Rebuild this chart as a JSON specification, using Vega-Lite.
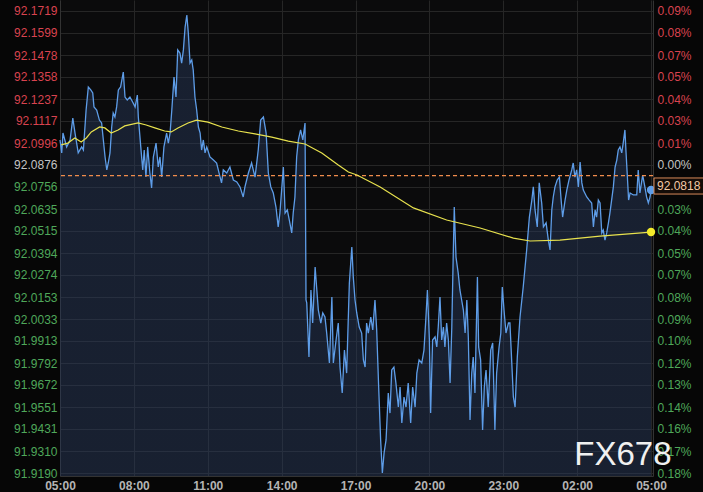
{
  "$schema": "https://vega.github.io/schema/vega-lite/v6.json",
  "width": 593,
  "height": 476,
  "autosize": "none",
  "padding": {"left": 60, "right": 50, "top": 0, "bottom": 16},
  "background": "#060606",
  "config": {
    "view": {"fill": "#0b0b0c", "stroke": null},
    "axis": {"labelFont": "Liberation Sans", "labelFontSize": 12, "ticks": false, "domainColor": "#333333", "gridColor": "#262626", "gridWidth": 1, "labelFlush": false, "labelOverlap": false, "title": null}
  },
  "datasets": {
    "price": [
      {"h":0,"p":92.1013},{"h":0.07,"p":92.0942},{"h":0.12,"p":92.1051},{"h":0.27,"p":92.0975},{"h":0.41,"p":92.1013},{"h":0.52,"p":92.1133},{"h":0.61,"p":92.1051},{"h":0.74,"p":92.0942},{"h":0.88,"p":92.0975},{"h":0.95,"p":92.0958},
      {"h":1.06,"p":92.1177},{"h":1.15,"p":92.1303},{"h":1.25,"p":92.1287},{"h":1.33,"p":92.127},{"h":1.38,"p":92.1194},{"h":1.49,"p":92.1177},{"h":1.6,"p":92.1122},{"h":1.69,"p":92.1106},{"h":1.76,"p":92.1013},{"h":1.83,"p":92.092},
      {"h":1.9,"p":92.0849},{"h":1.96,"p":92.0887},{"h":2.03,"p":92.0942},{"h":2.1,"p":92.1084},{"h":2.16,"p":92.1161},{"h":2.23,"p":92.1139},{"h":2.3,"p":92.1194},{"h":2.37,"p":92.1287},{"h":2.46,"p":92.1303},{"h":2.57,"p":92.1385},
      {"h":2.64,"p":92.1248},{"h":2.73,"p":92.1232},{"h":2.84,"p":92.1248},{"h":2.95,"p":92.1221},{"h":3.05,"p":92.1194},{"h":3.14,"p":92.1259},{"h":3.18,"p":92.1139},{"h":3.28,"p":92.0975},{"h":3.36,"p":92.0849},{"h":3.42,"p":92.0958},
      {"h":3.49,"p":92.081},{"h":3.56,"p":92.0975},{"h":3.65,"p":92.0832},{"h":3.72,"p":92.075},{"h":3.79,"p":92.092},{"h":3.9,"p":92.0996},{"h":3.99,"p":92.0865},{"h":4.06,"p":92.092},{"h":4.13,"p":92.081},{"h":4.22,"p":92.0975},
      {"h":4.33,"p":92.1051},{"h":4.4,"p":92.0996},{"h":4.47,"p":92.1051},{"h":4.54,"p":92.1177},{"h":4.63,"p":92.1358},{"h":4.71,"p":92.1248},{"h":4.78,"p":92.1506},{"h":4.87,"p":92.1489},{"h":4.94,"p":92.1434},{"h":5.01,"p":92.1506},
      {"h":5.08,"p":92.1631},{"h":5.15,"p":92.1697},{"h":5.21,"p":92.1599},{"h":5.28,"p":92.1434},{"h":5.35,"p":92.1451},{"h":5.41,"p":92.1396},{"h":5.48,"p":92.1248},{"h":5.55,"p":92.1177},{"h":5.62,"p":92.1084},{"h":5.69,"p":92.1051},
      {"h":5.75,"p":92.0958},{"h":5.82,"p":92.1013},{"h":5.89,"p":92.0942},{"h":5.96,"p":92.0975},{"h":6.09,"p":92.092},{"h":6.23,"p":92.0903},{"h":6.36,"p":92.0887},{"h":6.5,"p":92.081},{"h":6.56,"p":92.0778},{"h":6.63,"p":92.0849},
      {"h":6.77,"p":92.0832},{"h":6.9,"p":92.0865},{"h":7.04,"p":92.0794},{"h":7.18,"p":92.0783},{"h":7.31,"p":92.0756},{"h":7.44,"p":92.0701},{"h":7.51,"p":92.0756},{"h":7.65,"p":92.0832},{"h":7.78,"p":92.0887},{"h":7.92,"p":92.081},
      {"h":8.05,"p":92.0958},{"h":8.15,"p":92.1122},{"h":8.26,"p":92.1139},{"h":8.37,"p":92.1051},{"h":8.46,"p":92.0832},{"h":8.56,"p":92.0756},{"h":8.66,"p":92.0723},{"h":8.77,"p":92.0646},{"h":8.86,"p":92.0537},{"h":8.93,"p":92.0613},
      {"h":9.07,"p":92.0865},{"h":9.14,"p":92.0613},{"h":9.23,"p":92.063},{"h":9.31,"p":92.0575},{"h":9.41,"p":92.0504},{"h":9.47,"p":92.0613},{"h":9.54,"p":92.0701},{"h":9.61,"p":92.092},{"h":9.68,"p":92.1013},{"h":9.77,"p":92.1068},
      {"h":9.86,"p":92.1013},{"h":9.95,"p":92.1106},{"h":9.99,"p":92.0137},{"h":10.02,"p":92.0121},{"h":10.11,"p":91.9825},{"h":10.19,"p":92.0192},{"h":10.26,"p":92.0011},{"h":10.36,"p":92.0318},{"h":10.42,"p":92.0208},{"h":10.49,"p":92.0082},
      {"h":10.59,"p":92.0011},{"h":10.67,"p":92.0066},{"h":10.76,"p":92.0044},{"h":10.83,"p":91.9956},{"h":10.94,"p":91.9792},{"h":11.04,"p":92.0153},{"h":11.1,"p":91.9792},{"h":11.21,"p":91.9918},{"h":11.3,"p":92.0011},{"h":11.37,"p":91.977},
      {"h":11.46,"p":91.9628},{"h":11.55,"p":91.9863},{"h":11.64,"p":91.9737},{"h":11.75,"p":92.023},{"h":11.85,"p":92.0427},{"h":11.91,"p":92.0263},{"h":11.98,"p":92.0137},{"h":12.05,"p":92.0066},{"h":12.15,"p":91.9989},{"h":12.25,"p":91.9956},
      {"h":12.32,"p":91.9809},{"h":12.39,"p":91.977},{"h":12.45,"p":92.0011},{"h":12.52,"p":91.9956},{"h":12.62,"p":92.0044},{"h":12.7,"p":91.9973},{"h":12.79,"p":92.0137},{"h":12.86,"p":91.9973},{"h":12.94,"p":91.9661},{"h":13.02,"p":91.9371},
      {"h":13.09,"p":91.919},{"h":13.16,"p":91.93},{"h":13.24,"p":91.9371},{"h":13.33,"p":91.9628},{"h":13.4,"p":91.9518},{"h":13.47,"p":91.9754},{"h":13.56,"p":91.977},{"h":13.64,"p":91.9683},{"h":13.74,"p":91.9551},{"h":13.81,"p":91.9661},
      {"h":13.88,"p":91.9464},{"h":13.97,"p":91.9606},{"h":14.05,"p":91.9551},{"h":14.14,"p":91.9683},{"h":14.24,"p":91.9464},{"h":14.32,"p":91.9661},{"h":14.42,"p":91.9551},{"h":14.49,"p":91.9737},{"h":14.58,"p":91.9809},{"h":14.69,"p":91.9792},
      {"h":14.78,"p":91.9863},{"h":14.86,"p":92.0044},{"h":14.92,"p":92.0192},{"h":15.0,"p":91.9918},{"h":15.05,"p":91.9518},{"h":15.13,"p":91.9918},{"h":15.23,"p":91.9935},{"h":15.3,"p":91.988},{"h":15.36,"p":91.9989},{"h":15.43,"p":92.0153},
      {"h":15.5,"p":91.9918},{"h":15.57,"p":91.9989},{"h":15.63,"p":91.988},{"h":15.7,"p":92.0011},{"h":15.77,"p":91.9918},{"h":15.84,"p":91.9683},{"h":15.91,"p":91.9989},{"h":15.97,"p":92.0394},{"h":16.01,"p":92.0646},{"h":16.08,"p":92.0372},
      {"h":16.17,"p":92.0285},{"h":16.24,"p":92.0192},{"h":16.31,"p":92.0137},{"h":16.38,"p":92.0082},{"h":16.45,"p":91.9956},{"h":16.52,"p":92.0137},{"h":16.58,"p":91.9935},{"h":16.65,"p":91.948},{"h":16.72,"p":91.9737},{"h":16.78,"p":91.9825},
      {"h":16.85,"p":91.9628},{"h":16.95,"p":92.0263},{"h":17.0,"p":91.988},{"h":17.08,"p":91.9809},{"h":17.16,"p":91.9425},{"h":17.23,"p":91.9661},{"h":17.3,"p":91.9754},{"h":17.39,"p":91.9551},{"h":17.49,"p":91.9863},{"h":17.57,"p":91.9902},
      {"h":17.66,"p":91.9425},{"h":17.73,"p":91.9737},{"h":17.83,"p":91.988},{"h":17.9,"p":91.9956},{"h":17.96,"p":92.0208},{"h":18.03,"p":92.0082},{"h":18.11,"p":91.9956},{"h":18.21,"p":92.0011},{"h":18.27,"p":92.0011},{"h":18.41,"p":91.9606},
      {"h":18.48,"p":91.9551},{"h":18.57,"p":91.9825},{"h":18.68,"p":92.0044},{"h":18.81,"p":92.0208},{"h":18.95,"p":92.0411},{"h":19.06,"p":92.0591},{"h":19.16,"p":92.0684},{"h":19.22,"p":92.0756},{"h":19.29,"p":92.063},{"h":19.38,"p":92.0537},
      {"h":19.46,"p":92.0778},{"h":19.56,"p":92.0668},{"h":19.63,"p":92.0537},{"h":19.74,"p":92.0559},{"h":19.83,"p":92.0465},{"h":19.9,"p":92.0411},{"h":19.97,"p":92.063},{"h":20.03,"p":92.0701},{"h":20.1,"p":92.0756},{"h":20.19,"p":92.0794},
      {"h":20.28,"p":92.081},{"h":20.35,"p":92.0684},{"h":20.41,"p":92.0591},{"h":20.51,"p":92.0684},{"h":20.58,"p":92.0739},{"h":20.67,"p":92.0794},{"h":20.78,"p":92.0849},{"h":20.84,"p":92.0887},{"h":20.91,"p":92.081},{"h":20.98,"p":92.0849},
      {"h":21.05,"p":92.0756},{"h":21.12,"p":92.0892},{"h":21.19,"p":92.0778},{"h":21.25,"p":92.0739},{"h":21.39,"p":92.0701},{"h":21.49,"p":92.0684},{"h":21.59,"p":92.0668},{"h":21.66,"p":92.0537},{"h":21.73,"p":92.063},{"h":21.79,"p":92.0591},
      {"h":21.86,"p":92.0684},{"h":21.93,"p":92.0668},{"h":22.0,"p":92.0504},{"h":22.06,"p":92.052},{"h":22.13,"p":92.0465},{"h":22.2,"p":92.0504},{"h":22.27,"p":92.0559},{"h":22.33,"p":92.0613},{"h":22.4,"p":92.0684},{"h":22.47,"p":92.0756},
      {"h":22.54,"p":92.0865},{"h":22.61,"p":92.0903},{"h":22.67,"p":92.0958},{"h":22.74,"p":92.0975},{"h":22.81,"p":92.0942},{"h":22.87,"p":92.0996},{"h":22.94,"p":92.1068},{"h":22.98,"p":92.0958},{"h":23.04,"p":92.081},{"h":23.09,"p":92.0684},
      {"h":23.15,"p":92.0723},{"h":23.28,"p":92.0712},{"h":23.42,"p":92.0712},{"h":23.48,"p":92.0849},{"h":23.55,"p":92.0723},{"h":23.66,"p":92.0821},{"h":23.75,"p":92.0756},{"h":23.82,"p":92.0701},{"h":23.89,"p":92.0668},{"h":23.96,"p":92.0701},
      {"h":24.0,"p":92.0739}
    ],
    "ma": [
      {"h":0.05,"m":92.0986},{"h":0.32,"m":92.0996},{"h":0.6,"m":92.1024},{"h":0.86,"m":92.1002},{"h":1.07,"m":92.1024},{"h":1.27,"m":92.1057},{"h":1.61,"m":92.1084},{"h":1.82,"m":92.1079},{"h":2.08,"m":92.1051},{"h":2.36,"m":92.1068},
      {"h":2.63,"m":92.109},{"h":3.17,"m":92.1106},{"h":3.5,"m":92.1095},{"h":3.85,"m":92.1079},{"h":4.25,"m":92.1062},{"h":4.52,"m":92.1057},{"h":4.79,"m":92.1079},{"h":5.2,"m":92.1106},{"h":5.54,"m":92.1122},{"h":6.01,"m":92.1111},
      {"h":6.57,"m":92.1084},{"h":7.24,"m":92.1062},{"h":7.92,"m":92.1046},{"h":8.6,"m":92.1029},{"h":9.27,"m":92.1007},{"h":9.95,"m":92.0991},{"h":10.63,"m":92.0942},{"h":11.3,"m":92.0876},{"h":11.71,"m":92.0838},{"h":12.06,"m":92.0821},
      {"h":13.0,"m":92.0756},{"h":14.35,"m":92.0641},{"h":15.7,"m":92.0575},{"h":17.06,"m":92.0531},{"h":18.41,"m":92.0476},{"h":19.09,"m":92.046},{"h":20.3,"m":92.0465},{"h":21.93,"m":92.0487},{"h":24.0,"m":92.0509}
    ],
    "last": [{"h":24.0,"p":92.0739,"m":92.0509}],
    "ref": [{"ref":92.0818,"label":"92.0818"}],
    "brand": [{"h":22.86,"v":91.9289,"text":"FX678"}]
  },
  "resolve": {"axis": {"y": "independent"}},
  "layer": [
    {
      "data": {"name": "price"},
      "mark": {"type": "area", "clip": true, "color": {"gradient": "linear", "x1": 0, "y1": 0, "x2": 0, "y2": 1, "stops": [{"offset": 0, "color": "rgba(40,58,93,0.45)"}, {"offset": 1, "color": "rgba(38,57,92,0.18)"}]}},
      "encoding": {
        "x": {"field": "h", "type": "quantitative", "scale": {"domain": [0, 24.08], "nice": false, "zero": false},
          "axis": {"values": [0,3,6,9,12,15,18,21,24], "grid": true, "domain": true, "labelColor": "#b4b4b4", "labelFontWeight": "bold", "labelPadding": 4,
            "labelExpr": "['05:00','08:00','11:00','14:00','17:00','20:00','23:00','02:00','05:00'][round(datum.value/3)]"}},
        "y": {"field": "p", "type": "quantitative", "scale": {"domain": [91.91736, 92.17792], "nice": false, "zero": false},
          "axis": {"orient": "left", "grid": true, "domain": true, "labelPadding": 3, "format": ".4f",
            "values": [92.1719,92.1599,92.1478,92.1358,92.1237,92.1117,92.0996,92.0876,92.0756,92.0635,92.0515,92.0394,92.0274,92.0153,92.0033,91.9913,91.9792,91.9672,91.9551,91.9431,91.9310,91.9190],
            "labelColor": {"condition": [{"test": "datum.value > 92.09", "value": "#d9434f"}, {"test": "datum.value < 92.08", "value": "#4fa85a"}], "value": "#c4c4c4"}}}
      }
    },
    {
      "data": {"name": "price"},
      "mark": {"type": "line", "stroke": "#5e9de8", "strokeWidth": 1.3},
      "encoding": {
        "x": {"field": "h", "type": "quantitative"},
        "y": {"field": "p", "type": "quantitative", "axis": null}
      }
    },
    {
      "data": {"name": "ref"},
      "mark": {"type": "rule", "strokeDash": [4, 3], "strokeWidth": 1.2, "opacity": 1},
      "encoding": {"y": {"field": "ref", "type": "quantitative", "axis": null}, "color": {"value": "#f08c4c"}}
    },
    {
      "data": {"name": "ma"},
      "mark": {"type": "line", "stroke": "#e8e24e", "strokeWidth": 1.2},
      "encoding": {
        "x": {"field": "h", "type": "quantitative"},
        "y": {"field": "m", "type": "quantitative",
          "axis": {"orient": "right", "grid": false, "domain": true, "labelPadding": 4,
            "values": [92.1719,92.1599,92.1478,92.1358,92.1237,92.1117,92.0996,92.0876,92.0756,92.0635,92.0515,92.0394,92.0274,92.0153,92.0033,91.9913,91.9792,91.9672,91.9551,91.9431,91.9310,91.9190],
            "labelExpr": "['0.09%','0.08%','0.07%','0.05%','0.04%','0.03%','0.01%','0.00%','','0.03%','0.04%','0.05%','0.07%','0.08%','0.09%','0.10%','0.12%','0.13%','0.14%','0.16%','0.17%','0.18%'][round((92.1719 - datum.value)/0.012043)]",
            "labelColor": {"condition": [{"test": "datum.value > 92.09", "value": "#d9434f"}, {"test": "datum.value < 92.08", "value": "#4fa85a"}], "value": "#c4c4c4"}}}
      }
    },
    {
      "data": {"name": "last"},
      "mark": {"type": "point", "filled": true, "opacity": 1, "size": 70, "color": "#5e9de8"},
      "encoding": {"x": {"field": "h", "type": "quantitative"}, "y": {"field": "p", "type": "quantitative", "axis": null}}
    },
    {
      "data": {"name": "last"},
      "mark": {"type": "point", "filled": true, "opacity": 1, "size": 70, "color": "#f2ea2a"},
      "encoding": {"x": {"field": "h", "type": "quantitative"}, "y": {"field": "m", "type": "quantitative", "axis": null}}
    },
    {
      "data": {"name": "ref"},
      "mark": {"type": "rect", "fill": "#140c08", "stroke": "#d88a5a", "strokeWidth": 1, "clip": false},
      "encoding": {
        "x": {"datum": 24.12}, "x2": {"datum": 26.3},
        "y": {"datum": 92.0805, "axis": null}, "y2": {"datum": 92.0717}
      }
    },
    {
      "data": {"name": "ref"},
      "mark": {"type": "text", "align": "left", "baseline": "middle", "dx": 3, "font": "Liberation Sans", "fontSize": 12, "color": "#f2c9a6", "clip": false},
      "encoding": {
        "x": {"datum": 24.12},
        "y": {"datum": 92.0761, "axis": null},
        "text": {"field": "label"}
      }
    },
    {
      "data": {"name": "brand"},
      "mark": {"type": "text", "align": "center", "baseline": "middle", "font": "Liberation Sans", "fontSize": 33, "color": "#f0f0f0"},
      "encoding": {
        "x": {"field": "h", "type": "quantitative"},
        "y": {"field": "v", "type": "quantitative", "axis": null},
        "text": {"field": "text"}
      }
    }
  ]
}
